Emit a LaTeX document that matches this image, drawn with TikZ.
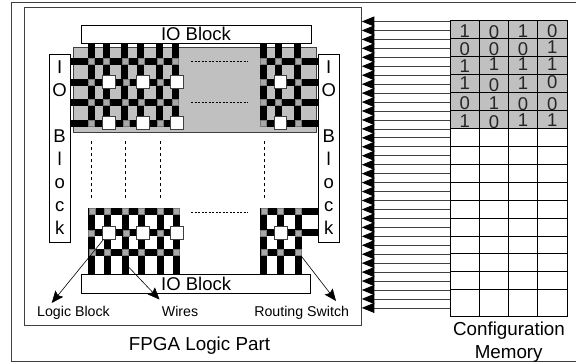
\documentclass[tikz,border=0pt]{standalone}
\usepackage{fontspec}
\setmainfont{Liberation Sans}
\usetikzlibrary{arrows.meta}
\definecolor{blockgray}{HTML}{C0C0C0}
\definecolor{switchgray}{HTML}{A8A8A8}
\definecolor{framegray}{HTML}{404040}
\tikzstyle{frame} = [rectangle, draw=framegray, line width=0.8pt, fill=white, inner sep=0pt]
\tikzstyle{ioblock} = [rectangle, draw=black, line width=0.8pt, fill=white, inner sep=0pt, font=\fontsize{18.5}{23}\selectfont, align=center]
\tikzstyle{wire} = [black, line width=7pt]
\tikzstyle{switch} = [rectangle, draw=framegray!70, line width=0.4pt, fill=switchgray, minimum size=6pt, inner sep=0pt]
\tikzstyle{logic} = [rectangle, draw=framegray, line width=0.8pt, fill=white, minimum size=12.6pt, inner sep=0pt]
\tikzstyle{cell} = [rectangle, draw=black, line width=0.7pt, minimum width=29.2pt, inner sep=0pt]
\tikzstyle{bit} = [font=\fontsize{18.5}{20}\selectfont, inner sep=0pt, text=black!85]
\tikzstyle{guide} = [black, line width=0.6pt, dash pattern=on 2pt off 1.5pt]
\tikzstyle{caption} = [font=\fontsize{14.2}{15}\selectfont, inner sep=0pt, anchor=base]
\tikzstyle{title} = [font=\fontsize{18.8}{20}\selectfont, inner sep=0pt, anchor=base]
\tikzstyle{arrow} = [black, line width=0.6pt, -{Stealth[length=12pt,width=10pt,inset=2pt]}]
\tikzstyle{cfgarrow} = [framegray, line width=0.8pt, -{Triangle[length=12.5pt,width=10pt,color=black]}]

\begin{document}
\begin{tikzpicture}[x=1pt, y=-1pt]
    \useasboundingbox (0,0) rectangle (576,362);
    \node[frame, minimum width=566pt, minimum height=359pt] (board) at (294,181.5) {};
    \node[frame, minimum width=336.3pt, minimum height=318pt] (logicpart) at (192.85,166.7) {};
    \node[rectangle, fill=blockgray, draw=framegray, line width=0.6pt, minimum width=242.3pt, minimum height=85.7pt, inner sep=0pt] (core) at (194.85,89.85) {};

    % io blocks
    \node[ioblock, minimum width=230pt, minimum height=18.7pt] (iotop) at (196,34.35) {IO Block};
    \node[ioblock, minimum width=229pt, minimum height=18.3pt] (iobot) at (196.2,283.85) {IO Block};
    \node[ioblock, minimum width=21.3pt, minimum height=188pt] (ioleft) at (59.65,148) {I\\O\\\mbox{}\\B\\l\\o\\c\\k};
    \node[ioblock, minimum width=21pt, minimum height=188pt] (ioright) at (328.8,148) {I\\O\\\mbox{}\\B\\l\\o\\c\\k};

    % wires, top left
    \foreach \x in {91.3,106.5,124.5,140.5,159.5,175.5}
        \draw[wire] (\x,44) -- (\x,124);
    \foreach \y in {61.5,82,102,123}
        \draw[wire] (70.5,\y) -- (178,\y);
    % wires, top right
    \foreach \x in {263,278.5,297.5}
        \draw[wire] (\x,44) -- (\x,124);
    \foreach \y in {61.5,82,102,123}
        \draw[wire] (260,\y) -- (318.3,\y);
    % wires, bottom left
    \foreach \x in {91.5,107.5,125,141,160,176}
        \draw[wire] (\x,208) -- (\x,275);
    \foreach \y in {211.5,232.7,252.5}
        \draw[wire] (88,\y) -- (178,\y);
    % wires, bottom right
    \foreach \x in {263.5,280,298}
        \draw[wire] (\x,208) -- (\x,275);
    \draw[wire] (260,211.5) -- (318.3,211.5);
    \draw[wire] (260,232.7) -- (318.3,232.7);
    \draw[wire] (260,252.5) -- (301,252.5);

    % switches
    \foreach \y/\rw in {61.5/a,102/c} {
        \foreach \x [count=\i] in {91.5,106.5,125,141,160,175.5,263,278.5,298}
            \node[switch] (sw\rw\i) at (\x,\y) {};
    }
    \foreach \y/\rw in {82/b,123/d}
        \foreach \x [count=\i] in {91.5,125.7,160,263,298}
            \node[switch] (sw\rw\i) at (\x,\y) {};
    \foreach \y/\rw in {211.5/e,252.5/g}
        \foreach \x [count=\i] in {91.8,107.5,125.5,141.3,160.3,176,263.8,280,298.5}
            \node[switch] (sw\rw\i) at (\x,\y) {};
    \foreach \x [count=\i] in {91,125.7,160,263.5,298}
        \node[switch] (swf\i) at (\x,232.7) {};

    % logic blocks
    \foreach \y/\rw in {82/b,123/d}
        \foreach \x [count=\i] in {108.7,142.7,177,280.3}
            \node[logic] (lb\rw\i) at (\x,\y) {};
    \foreach \x [count=\i] in {109,143,177,280.6}
        \node[logic] (lbf\i) at (\x,232.7) {};

    % continuation marks
    \foreach \y in {61.5,102,212.7}
        \draw[guide] (191,\y) -- (248,\y);
    \foreach \x in {91,125.7,160,264}
        \draw[guide, dash pattern=on 3pt off 3pt] (\x,141) -- (\x,198);

    % labels
    \node[caption] (lbllogic) at (73.5,316.7) {Logic Block};
    \node[caption] (lblwires) at (180,316.7) {Wires};
    \node[caption] (lblswitch) at (301.7,316.7) {Routing Switch};
    \node[title] (lblfpga) at (199.5,350) {FPGA Logic Part};
    \node[title] (lblconfig) at (509,335.7) {Configuration};
    \node[title] (lblmem) at (508.7,358) {Memory};
    \coordinate (logicend) at (51.7,303);
    \coordinate (wiresend) at (159.5,299.5);
    \coordinate (wiresstart) at (128.3,266.7);
    \coordinate (switchend) at (336,301);
    \draw[arrow] (lbf1) -- (logicend);
    \draw[arrow] (wiresstart) -- (wiresend);
    \draw[arrow] (swg9) -- (switchend);

    % configuration memory
    \foreach \r in {1,...,15}
        \foreach \c in {1,...,4}
            \node[cell, minimum height=17.93pt, fill=white] (cell\r-\c) at (435.5+29.2*\c, 20.7+17.93*\r-8.965) {};
    \foreach \c in {1,...,4}
        \node[cell, minimum height=27pt, fill=white] (cell16-\c) at (435.5+29.2*\c, 303.2) {};
    \foreach \r in {1,...,6}
        \foreach \c in {1,...,4}
            \node[cell, minimum height=17.93pt, fill=blockgray] at (435.5+29.2*\c, 20.7+17.93*\r-8.965) {};
    \foreach \val/\c/\y in {1/1/31,0/2/32.3,1/3/31,0/4/30.7,
                            0/1/49,0/2/49,0/3/49,1/4/46.7,
                            1/1/65.7,1/2/64,1/3/64,1/4/64,
                            1/1/83.3,0/2/85,1/3/83.3,0/4/81.7,
                            0/1/103,1/2/103,0/3/104.5,0/4/104.5,
                            1/1/120.7,0/2/121.7,1/3/120,1/4/120}
        \node[bit] at (435.5+29.2*\c,\y) {\val};

    % configuration lines
    \foreach \n in {0,...,32} {
        \coordinate (cfg\n) at (450,21.5+8.95*\n);
        \coordinate (pin\n) at (361.8,21.5+8.95*\n);
        \draw[cfgarrow] (cfg\n) -- (pin\n);
    }
\end{tikzpicture}
\end{document}
